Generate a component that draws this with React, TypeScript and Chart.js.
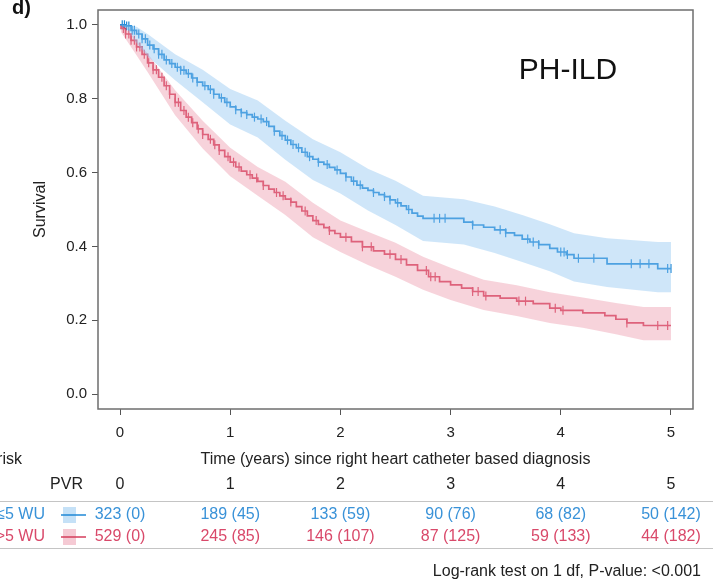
import React, { useEffect, useRef } from 'react';
import { Chart, registerables } from 'chart.js';

Chart.register(...registerables);

// ---- Kaplan-Meier data ----
const blueTimes = [0, 0.05, 0.1, 0.15, 0.2, 0.25, 0.3, 0.35, 0.4, 0.45, 0.5, 0.55, 0.6, 0.65, 0.7, 0.75, 0.8, 0.85, 0.9, 0.95, 1.0, 1.05, 1.1, 1.15, 1.2, 1.25, 1.3, 1.35, 1.4, 1.45, 1.5, 1.55, 1.6, 1.65, 1.7, 1.75, 1.8, 1.85, 1.9, 1.95, 2.0, 2.05, 2.1, 2.15, 2.2, 2.25, 2.3, 2.35, 2.4, 2.45, 2.5, 2.55, 2.6, 2.65, 2.7, 2.75, 3.12, 3.2, 3.3, 3.4, 3.5, 3.58, 3.65, 3.72, 3.8, 3.9, 3.97, 4.05, 4.12, 4.42, 4.88, 5.0];
const blueSurv = [1.0, 0.997, 0.985, 0.975, 0.962, 0.945, 0.935, 0.92, 0.905, 0.895, 0.885, 0.877, 0.868, 0.856, 0.845, 0.835, 0.825, 0.812, 0.802, 0.79, 0.778, 0.77, 0.762, 0.757, 0.75, 0.745, 0.738, 0.725, 0.712, 0.7, 0.688, 0.676, 0.667, 0.655, 0.643, 0.636, 0.628, 0.622, 0.614, 0.607, 0.598, 0.588, 0.577, 0.566, 0.558, 0.552, 0.546, 0.54, 0.535, 0.526, 0.518, 0.51, 0.5, 0.49, 0.482, 0.476, 0.466, 0.458, 0.452, 0.445, 0.437, 0.43, 0.42, 0.412, 0.405, 0.395, 0.385, 0.378, 0.368, 0.353, 0.34, 0.34];

const redTimes = [0, 0.01, 0.05, 0.1, 0.15, 0.2, 0.25, 0.3, 0.35, 0.4, 0.45, 0.5, 0.55, 0.6, 0.65, 0.7, 0.75, 0.8, 0.85, 0.9, 0.95, 1.0, 1.05, 1.1, 1.15, 1.2, 1.25, 1.3, 1.35, 1.4, 1.45, 1.5, 1.55, 1.6, 1.65, 1.7, 1.75, 1.8, 1.85, 1.9, 1.95, 2.0, 2.1, 2.2, 2.3, 2.4, 2.5, 2.6, 2.7, 2.8, 2.9, 3.0, 3.1, 3.2, 3.3, 3.45, 3.6, 3.75, 3.9, 4.0, 4.2, 4.4, 4.5, 4.6, 4.75, 5.0];
const redSurv = [1.0, 0.99, 0.975, 0.958, 0.94, 0.92, 0.897, 0.878, 0.858, 0.835, 0.812, 0.79, 0.768, 0.75, 0.735, 0.718, 0.703, 0.69, 0.675, 0.66, 0.643, 0.628, 0.615, 0.604, 0.594, 0.585, 0.576, 0.565, 0.555, 0.546, 0.537, 0.528, 0.52, 0.508, 0.496, 0.483, 0.47, 0.46, 0.451, 0.443, 0.435, 0.425, 0.413, 0.399, 0.388, 0.379, 0.365, 0.35, 0.335, 0.318, 0.305, 0.296, 0.287, 0.278, 0.266, 0.26, 0.252, 0.245, 0.233, 0.227, 0.22, 0.213, 0.203, 0.193, 0.186, 0.186];

// Confidence bands
const blueBandTimes = [0, 0.06, 0.15, 0.25, 0.5, 0.75, 1.0, 1.25, 1.5, 1.75, 2.0, 2.25, 2.5, 2.75, 3.12, 3.4, 3.65, 3.9, 4.12, 4.42, 4.88, 5.0];
const blueLower = [1.0, 0.99, 0.95, 0.915, 0.85, 0.79, 0.73, 0.695, 0.635, 0.58, 0.543, 0.497, 0.458, 0.415, 0.405, 0.382, 0.358, 0.333, 0.305, 0.29, 0.276, 0.276];
const blueUpper = [1.0, 1.0, 0.995, 0.975, 0.92, 0.878, 0.826, 0.795, 0.74, 0.69, 0.655, 0.61, 0.578, 0.537, 0.528, 0.508, 0.485, 0.46, 0.436, 0.422, 0.412, 0.412];

const redBandTimes = [0, 0.01, 0.1, 0.25, 0.5, 0.75, 1.0, 1.25, 1.5, 1.75, 2.0, 2.25, 2.5, 2.75, 3.0, 3.3, 3.6, 3.9, 4.2, 4.5, 4.75, 5.0];
const redLower = [1.0, 0.98, 0.94, 0.872, 0.755, 0.665, 0.59, 0.537, 0.485, 0.425, 0.385, 0.35, 0.318, 0.283, 0.255, 0.228, 0.212, 0.193, 0.18, 0.162, 0.146, 0.146];
const redUpper = [1.0, 0.998, 0.975, 0.922, 0.823, 0.74, 0.667, 0.615, 0.575, 0.518, 0.47, 0.44, 0.41, 0.372, 0.342, 0.31, 0.295, 0.276, 0.262, 0.247, 0.236, 0.236];

// Censoring times
const blueCensorTimes = [0.02, 0.04, 0.06, 0.08, 0.11, 0.13, 0.17, 0.2, 0.23, 0.27, 0.31, 0.35, 0.38, 0.42, 0.47, 0.52, 0.55, 0.58, 0.62, 0.66, 0.7, 0.77, 0.82, 0.85, 0.92, 0.97, 1.05, 1.1, 1.15, 1.22, 1.28, 1.33, 1.4, 1.47, 1.52, 1.57, 1.62, 1.68, 1.72, 1.8, 1.88, 1.97, 2.05, 2.12, 2.18, 2.3, 2.4, 2.45, 2.52, 2.62, 2.85, 2.9, 2.95, 3.2, 3.45, 3.5, 3.7, 3.75, 3.8, 4.0, 4.03, 4.06, 4.16, 4.3, 4.64, 4.72, 4.8, 4.97, 5.0];
const redCensorTimes = [0.03, 0.05, 0.08, 0.1, 0.13, 0.15, 0.18, 0.22, 0.26, 0.3, 0.33, 0.38, 0.42, 0.45, 0.5, 0.53, 0.58, 0.62, 0.66, 0.71, 0.75, 0.82, 0.86, 0.9, 0.98, 1.03, 1.08, 1.18, 1.24, 1.3, 1.42, 1.48, 1.55, 1.68, 1.78, 1.9, 2.05, 2.2, 2.28, 2.45, 2.55, 2.78, 2.82, 2.86, 3.2, 3.25, 3.32, 3.62, 3.68, 3.95, 4.02, 4.6, 4.88, 4.97];

// Axis ticks
const xTicks = [0, 1, 2, 3, 4, 5];
const yTicks = [0, 0.2, 0.4, 0.6, 0.8, 1.0];

// Risk table
const riskTimes = [0, 1, 2, 3, 4, 5];
const blueAtRisk = [323, 189, 133, 90, 68, 50];
const blueCensored = [0, 45, 59, 76, 82, 142];
const redAtRisk = [529, 245, 146, 87, 59, 44];
const redCensored = [0, 85, 107, 125, 133, 182];

const groupLabels = ['\u22645 WU', '>5 WU'];

const BLUE = '#1f88d6';
const BLUE_BAND = 'rgba(140,195,240,0.42)';
const BLUE_TEXT = '#3992d8';
const RED = '#d43d5b';
const RED_BAND = 'rgba(236,150,170,0.42)';
const RED_TEXT = '#d9496a';
const FONT = '"Liberation Sans", Arial, Helvetica, sans-serif';

function pts(ts: number[], vs: number[]) {
  return ts.map((t, i) => ({ x: t, y: vs[i] }));
}
function survAt(ts: number[], vs: number[], t: number) {
  let v = vs[0];
  for (let i = 0; i < ts.length; i++) {
    if (ts[i] <= t) v = vs[i];
  }
  return v;
}

const overlay = {
  id: 'overlay',
  afterDraw(chart: any) {
    const { ctx, chartArea, scales } = chart;
    const xs = scales.x;
    ctx.save();
    // frame
    ctx.strokeStyle = '#6e6e6e';
    ctx.lineWidth = 1.5;
    ctx.strokeRect(chartArea.left, chartArea.top, chartArea.right - chartArea.left, chartArea.bottom - chartArea.top);

    ctx.fillStyle = '#111';
    ctx.font = `bold 20px ${FONT}`;
    ctx.textAlign = 'left';
    ctx.textBaseline = 'alphabetic';
    ctx.fillText('d)', 12, 14);

    // PH-ILD label
    ctx.font = `30px ${FONT}`;
    ctx.textAlign = 'center';
    ctx.textBaseline = 'middle';
    ctx.fillStyle = '#111';
    ctx.fillText('PH-ILD', 568, 71);

    // y title
    ctx.save();
    ctx.translate(41, (chartArea.top + chartArea.bottom) / 2);
    ctx.rotate(-Math.PI / 2);
    ctx.font = `16px ${FONT}`;
    ctx.fillStyle = '#222';
    ctx.fillText('Survival', 0, 0);
    ctx.restore();

    // x title
    ctx.font = `16px ${FONT}`;
    ctx.fillStyle = '#222';
    ctx.textAlign = 'center';
    ctx.fillText('Time (years) since right heart catheter based diagnosis', (chartArea.left + chartArea.right) / 2, 460);

    ctx.textAlign = 'right';
    ctx.fillText('Number at risk', 22, 460);
    ctx.fillText('PVR', 83, 485);
    ctx.textAlign = 'center';
    riskTimes.forEach((t) => ctx.fillText(String(t), xs.getPixelForValue(t), 485));

    // separators
    ctx.strokeStyle = '#c4c4c4';
    ctx.lineWidth = 1;
    ctx.beginPath();
    ctx.moveTo(0, 501.5);
    ctx.lineTo(713, 501.5);
    ctx.moveTo(0, 548.5);
    ctx.lineTo(713, 548.5);
    ctx.stroke();

    const rows = [
      { y: 515, label: groupLabels[0], n: blueAtRisk, c: blueCensored, col: BLUE_TEXT, line: BLUE, band: 'rgba(140,195,240,0.5)' },
      { y: 537, label: groupLabels[1], n: redAtRisk, c: redCensored, col: RED_TEXT, line: RED, band: 'rgba(236,150,170,0.5)' },
    ];
    rows.forEach((r) => {
      ctx.fillStyle = r.col;
      ctx.textAlign = 'right';
      ctx.fillText(r.label, 45, r.y);
      ctx.fillStyle = r.band;
      ctx.fillRect(63, r.y - 8, 13, 16);
      ctx.strokeStyle = r.line;
      ctx.lineWidth = 1.5;
      ctx.beginPath();
      ctx.moveTo(61, r.y);
      ctx.lineTo(86, r.y);
      ctx.stroke();
      ctx.fillStyle = r.col;
      ctx.textAlign = 'center';
      riskTimes.forEach((t, i) => ctx.fillText(`${r.n[i]} (${r.c[i]})`, xs.getPixelForValue(t), r.y));
    });

    ctx.fillStyle = '#222';
    ctx.textAlign = 'right';
    ctx.fillText('Log-rank test on 1 df, P-value: <0.001', 701, 572);
    ctx.restore();
  },
};

export default function App() {
  const ref = useRef<HTMLCanvasElement>(null);
  useEffect(() => {
    if (!ref.current) return;
    const band = (data: any, color: string, fill: any) => ({
      type: 'line',
      data,
      stepped: false,
      tension: 0,
      borderWidth: 0,
      borderColor: 'transparent',
      backgroundColor: color,
      pointRadius: 0,
      fill,
    });
    const line = (data: any, color: string) => ({
      type: 'line',
      data,
      stepped: true,
      borderWidth: 1.7,
      borderColor: color,
      pointRadius: 0,
      fill: false,
    });
    const cens = (times: number[], ts: number[], vs: number[], color: string) => ({
      type: 'scatter',
      data: times.map((t) => ({ x: t, y: survAt(ts, vs, t) })),
      pointStyle: 'line',
      rotation: 90,
      pointRadius: 4.5,
      borderWidth: 1.2,
      borderColor: color,
      backgroundColor: color,
      showLine: false,
    });
    const chart = new Chart(ref.current, {
      type: 'line',
      data: {
        datasets: [
          band(pts(blueBandTimes, blueLower), BLUE_BAND, false),
          band(pts(blueBandTimes, blueUpper), BLUE_BAND, '-1'),
          band(pts(redBandTimes, redLower), RED_BAND, false),
          band(pts(redBandTimes, redUpper), RED_BAND, '-1'),
          line(pts(blueTimes, blueSurv), BLUE),
          line(pts(redTimes, redSurv), RED),
          cens(blueCensorTimes, blueTimes, blueSurv, BLUE),
          cens(redCensorTimes, redTimes, redSurv, RED),
        ] as any,
      },
      options: {
        animation: false,
        responsive: false,
        devicePixelRatio: 1,
        layout: { padding: { left: 0, top: 10, right: 25, bottom: 113 } },
        plugins: { legend: { display: false }, tooltip: { enabled: false } },
        scales: {
          x: {
            type: 'linear',
            min: -0.2,
            max: 5.2,
            afterBuildTicks: (s: any) => { s.ticks = xTicks.map((v) => ({ value: v })); },
            afterFit: (s: any) => { s.height = 61; s.paddingLeft = 0; s.paddingRight = 0; },
            border: { display: false },
            grid: { drawOnChartArea: false, drawTicks: true, tickLength: 6, color: '#555', lineWidth: 1 },
            ticks: { color: '#222', font: { family: FONT, size: 15 }, padding: 9, maxRotation: 0 },
          },
          y: {
            type: 'linear',
            min: -0.04,
            max: 1.04,
            afterBuildTicks: (s: any) => { s.ticks = yTicks.map((v) => ({ value: v })); },
            afterFit: (s: any) => { s.width = 98; s.paddingTop = 0; s.paddingBottom = 0; },
            border: { display: false },
            grid: { drawOnChartArea: false, drawTicks: true, tickLength: 6, color: '#555', lineWidth: 1 },
            ticks: { color: '#222', font: { family: FONT, size: 15 }, padding: 5, callback: (v: any) => Number(v).toFixed(1) },
          },
        },
      } as any,
      plugins: [overlay],
    });
    return () => chart.destroy();
  }, []);
  return (
    <div style={{ position: 'fixed', left: 0, top: 0, width: 718, height: 583, background: '#fff' }}>
      <canvas ref={ref} width={718} height={583} style={{ width: 718, height: 583, display: 'block' }} />
    </div>
  );
}
